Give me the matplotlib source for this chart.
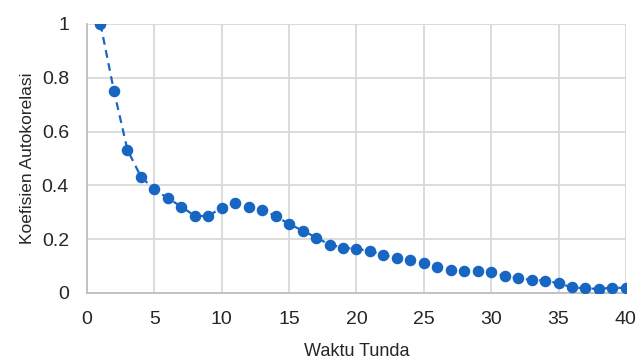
import numpy as np
import matplotlib
matplotlib.use("Agg")
import matplotlib.pyplot as plt

plt.rcParams['font.family'] = ['Liberation Sans Narrow', 'Liberation Sans', 'DejaVu Sans']

# waktu tunda (lag) dan koefisien autokorelasi
lag = list(range(1, 41))
acf = [1.0, 0.751, 0.532, 0.432, 0.385, 0.352, 0.321, 0.286, 0.286, 0.317,
       0.336, 0.321, 0.309, 0.286, 0.256, 0.232, 0.206, 0.180, 0.168, 0.164,
       0.156, 0.141, 0.129, 0.121, 0.113, 0.095, 0.087, 0.083, 0.083, 0.076,
       0.063, 0.055, 0.048, 0.046, 0.036, 0.021, 0.017, 0.015, 0.020, 0.018]
yticks = [0, 0.2, 0.4, 0.6, 0.8, 1]
ylabels = ['0', '0.2', '0.4', '0.6', '0.8', '1']

fig = plt.figure(figsize=(6.38, 3.63), dpi=100)
ax = fig.add_axes([0.1364, 0.193, 0.8446, 0.741])

col = '#1767C2'
ax.plot(lag, acf, linestyle=(0, (3.5, 2.5)), color=col, linewidth=1.6,
        marker='o', markersize=7.3, markerfacecolor=col, markeredgecolor=col, zorder=3)

ax.set_xlim(0, 40)
ax.set_ylim(0, 1)
ax.set_xticks(range(0, 41, 5))
ax.set_yticks(yticks)
ax.set_yticklabels(ylabels)
ax.grid(True, color='#d9d9d9', linewidth=1.3)
ax.set_axisbelow(True)
for s in ['top', 'right']:
    ax.spines[s].set_visible(False)
for s in ['left', 'bottom']:
    ax.spines[s].set_color('#bfbfbf')
    ax.spines[s].set_linewidth(1.3)
ax.tick_params(length=0, labelsize=14, colors='#262626')
ax.tick_params(axis='x', pad=13)
ax.tick_params(axis='y', pad=13)
ax.set_xlabel('Waktu Tunda', fontsize=13, color='#262626', labelpad=11)
ax.set_ylabel('Koefisien Autokorelasi', fontsize=12.5, color='#262626', labelpad=5)

fig.savefig('out.png', dpi=100)
